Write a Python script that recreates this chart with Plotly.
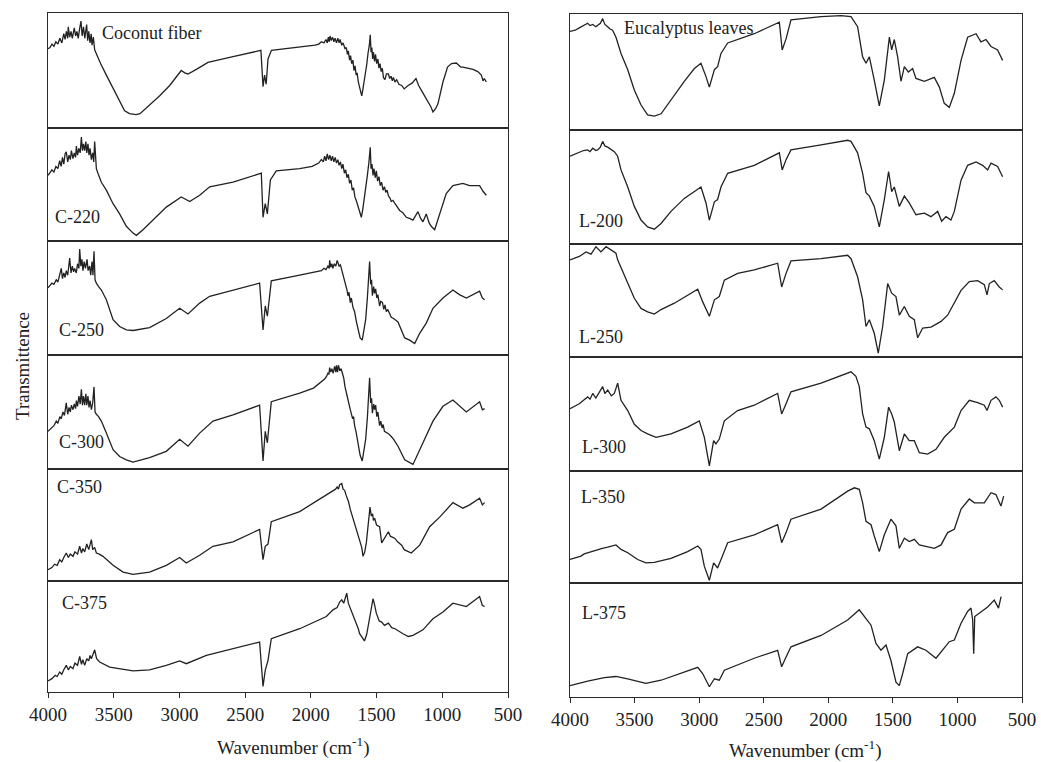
import plotly.graph_objects as go

# ---- data: (wavenumber cm-1, relative transmittance 0-100 within its panel) ----
coconut = [(4000,69),(3985,70),(3970,73),(3955,71),(3940,75),(3925,73),(3910,78),(3895,74),(3880,82),(3870,77),(3860,84),(3850,78),(3846,88),(3835,79),(3825,84),(3815,78),(3800,87),(3790,80),(3780,84),(3770,78),(3760,86),(3749,93),(3740,80),(3730,88),(3720,78),(3712,86),(3706,90),(3698,76),(3690,84),(3680,74),(3672,82),(3665,72),(3655,79),(3645,68),(3630,64),(3615,60),(3600,56),(3556,46),(3500,34),(3450,23),(3417,15),(3380,12.5),(3330,11.6),(3300,12.5),(3227,20),(3150,28),(3074,37),(3010,47),(2986,50),(2960,48),(2935,47),(2871,51),(2783,57),(2592,62),(2400,67),(2380,67.5),(2364,36),(2352,46),(2340,38),(2326,60),(2300,67.5),(2085,70),(1968,72),(1940,73),(1920,75),(1900,74),(1885,77),(1875,74),(1867,79),(1860,75),(1854,80),(1845,76),(1835,79),(1825,75),(1816,78),(1805,74),(1795,78),(1785,74),(1778,77),(1765,72),(1755,74),(1740,69),(1730,70),(1722,64),(1715,67),(1705,59),(1698,63),(1689,56),(1680,59),(1672,50),(1664,54),(1655,46),(1648,48),(1639,40),(1630,36),(1620,30),(1613,28),(1605,33),(1595,40),(1585,50),(1575,55),(1565,65),(1555,72),(1548,81),(1542,66),(1536,70),(1530,60),(1524,66),(1515,58),(1508,64),(1499,56),(1490,60),(1482,52),(1474,56),(1465,49),(1456,52),(1448,44),(1436,42),(1425,47),(1410,47),(1400,43),(1390,45),(1380,41),(1372,44),(1360,40),(1347,42),(1330,38),(1309,37),(1290,34),(1260,37),(1230,39),(1200,43),(1180,37),(1150,31),(1120,25.5),(1100,21),(1085,18),(1071,14),(1050,17),(1033,21),(1010,33),(995,40),(960,53),(930,56),(893,56.5),(860,53),(843,53),(800,52),(767,51),(730,49),(703,46),(690,41),(680,43),(665,40)]
c220 = [(4000,58),(3985,60),(3970,63),(3955,61),(3940,66),(3925,64),(3911,71),(3900,66),(3890,74),(3880,68),(3870,77),(3861,79),(3850,70),(3840,76),(3830,72),(3822,80),(3810,73),(3800,78),(3790,74),(3784,84),(3775,76),(3765,82),(3755,78),(3746,92),(3738,80),(3730,86),(3721,80),(3712,88),(3705,78),(3696,86),(3688,76),(3680,82),(3670,72),(3660,78),(3652,70),(3645,88),(3638,68),(3632,64),(3620,60),(3605,56),(3594,52),(3556,45),(3505,33),(3455,24),(3404,13),(3353,7),(3328,5),(3277,10),(3201,18.5),(3100,30),(2986,39),(2922,35),(2846,40.5),(2770,48),(2592,52),(2377,60),(2364,21),(2347,33),(2331,24),(2308,54),(2263,62),(2085,64),(1990,66),(1960,68),(1940,69),(1920,72),(1905,70),(1895,75),(1885,71),(1875,77),(1865,72),(1855,76),(1845,71),(1835,75),(1825,70),(1815,74),(1805,69),(1795,72),(1785,67),(1775,70),(1765,64),(1756,68),(1745,60),(1735,63),(1725,56),(1715,59),(1705,51),(1695,54),(1685,45),(1675,47),(1665,39),(1655,36),(1640,30),(1625,24),(1616,21),(1605,28),(1595,36),(1583,44),(1570,58),(1558,70),(1548,83),(1542,64),(1535,68),(1527,58),(1520,64),(1510,56),(1502,62),(1492,53),(1482,57),(1472,49),(1462,52),(1451,45),(1440,48),(1430,43),(1420,45),(1410,40),(1398,38),(1388,35),(1375,36),(1360,33),(1340,30),(1324,27),(1300,25),(1274,21),(1250,20),(1223,18.5),(1185,26),(1165,20),(1147,17),(1122,24),(1100,16),(1084,13),(1058,10),(1020,24),(970,42),(919,49),(843,51),(792,49),(716,49),(690,44),(665,40.5)]
c250 = [(4000,59),(3985,61),(3970,63),(3955,62),(3937,66),(3925,64),(3912,70),(3899,76),(3890,67),(3880,72),(3870,68),(3861,74),(3850,70),(3842,78),(3835,85),(3825,72),(3815,78),(3805,73),(3797,76),(3785,72),(3775,80),(3765,76),(3759,93),(3750,78),(3742,84),(3734,74),(3725,82),(3715,76),(3703,84),(3695,74),(3683,78),(3675,70),(3665,82),(3658,70),(3650,91),(3642,66),(3632,63),(3615,60),(3594,57),(3556,48.5),(3505,31),(3455,25),(3404,22),(3353,21.5),(3227,24),(3100,32),(2998,41),(2935,36),(2846,45.5),(2770,51.5),(2592,57),(2390,63),(2364,22),(2347,43),(2331,34),(2301,65),(2085,70),(1940,73),(1920,74),(1900,76),(1885,75),(1870,78),(1860,76),(1857,83),(1848,77),(1840,80),(1832,76),(1822,80),(1810,78),(1800,83),(1794,80),(1785,78),(1775,79),(1768,76),(1755,70),(1743,66),(1735,62),(1725,57),(1718,52),(1710,55),(1700,46),(1692,50),(1680,42),(1667,38),(1655,30),(1641,22),(1625,15),(1609,13),(1595,22),(1583,31),(1570,50),(1560,68),(1553,82),(1545,62),(1538,66),(1532,52),(1522,60),(1515,54),(1507,58),(1498,50),(1490,53),(1477,43),(1468,47),(1455,46),(1445,40),(1436,44),(1426,38),(1415,40),(1400,36),(1388,33),(1370,32),(1337,29),(1286,15),(1248,13),(1210,10),(1172,19),(1122,28),(1071,41),(995,50),(919,57),(870,53),(817,50),(716,56),(695,50),(678,48.5)]
c300 = [(4000,33),(3985,35),(3970,37),(3955,38),(3937,42),(3925,40),(3910,46),(3900,44),(3886,50),(3875,47),(3861,58),(3850,48),(3840,54),(3830,50),(3822,56),(3810,52),(3800,57),(3790,53),(3784,60),(3775,55),(3765,64),(3755,57),(3746,70),(3738,56),(3730,64),(3721,56),(3712,66),(3705,56),(3696,64),(3688,54),(3680,60),(3670,52),(3660,58),(3650,72),(3642,50),(3632,48),(3615,46),(3594,42),(3556,31.5),(3505,17),(3455,11),(3404,8),(3353,6),(3227,10),(3100,15.5),(2998,26),(2935,20),(2846,31.5),(2745,42),(2592,47.5),(2390,56),(2364,7),(2347,33),(2331,23),(2301,59),(2085,66.5),(1980,71),(1933,75),(1910,77),(1895,79),(1882,81),(1870,84),(1862,83),(1857,89),(1848,85),(1840,88),(1830,84),(1819,90),(1810,85),(1805,91),(1797,85),(1790,91),(1780,86),(1770,88),(1760,84),(1750,80),(1740,72),(1730,66),(1720,62),(1710,57),(1700,52),(1692,49),(1682,44),(1675,46),(1667,38),(1655,32),(1641,24),(1625,12),(1609,7),(1595,16),(1583,26),(1570,45),(1560,62),(1553,80),(1545,58),(1538,62),(1532,49),(1522,57),(1515,52),(1507,56),(1498,46),(1490,50),(1477,38),(1468,42),(1458,36),(1450,39),(1440,33),(1426,32),(1410,31),(1388,28.5),(1370,26),(1337,20),(1286,8),(1223,4),(1172,17),(1122,28.5),(1071,42),(995,55),(919,60.5),(817,50),(716,59),(695,52),(678,53)]
c350 = [(4000,10),(3970,12),(3950,15),(3930,14),(3911,19),(3895,17),(3880,21),(3861,25),(3845,21),(3830,24),(3810,22),(3795,26),(3775,24),(3759,31),(3745,25),(3735,29),(3721,26),(3705,33),(3690,28),(3680,34),(3670,37),(3660,28),(3645,30),(3632,25),(3610,24),(3582,22),(3505,14),(3429,8),(3353,6),(3227,8),(3100,14),(2998,21),(2948,16),(2846,23),(2745,31),(2592,35),(2390,46),(2364,19),(2347,31),(2326,33),(2301,53),(2085,62),(1882,77),(1832,80),(1812,82),(1800,84),(1790,82),(1781,86),(1765,87),(1755,82),(1743,81),(1730,76),(1714,71),(1700,64),(1690,60),(1676,56),(1665,52),(1641,40),(1613,30),(1603,22),(1590,26),(1578,34),(1562,55),(1550,66),(1540,58),(1530,60),(1524,54),(1515,56),(1500,50),(1477,48.5),(1461,34),(1439,38),(1420,42),(1410,44),(1395,40),(1375,39),(1360,38),(1340,35),(1309,32),(1290,28),(1258,26),(1236,25),(1172,32),(1096,48.5),(1020,57),(919,70),(843,65),(792,68),(716,74),(695,68),(678,70)]
c375 = [(4000,10),(3970,12),(3945,15),(3930,14),(3911,18),(3895,16),(3880,20),(3861,24),(3845,20),(3830,23),(3810,21),(3795,26),(3775,24),(3759,32),(3745,25),(3735,29),(3721,24),(3705,30),(3690,28),(3680,33),(3670,30),(3645,38),(3630,30),(3607,27),(3531,22.5),(3353,19),(3227,20),(3100,24),(2998,28),(2948,25.5),(2795,33),(2592,39),(2390,45),(2364,5),(2347,19.5),(2326,28.5),(2301,48),(2085,57),(1882,68),(1832,74),(1800,76),(1781,81),(1765,83),(1750,80),(1740,85),(1727,89),(1715,80),(1705,77),(1689,71),(1667,66),(1639,57),(1629,52.5),(1605,48),(1592,46),(1575,52),(1550,69),(1540,76),(1527,84),(1518,80),(1510,75),(1502,71),(1480,64),(1461,63),(1440,60),(1410,62),(1385,58),(1360,57),(1299,52.5),(1258,50),(1223,51),(1147,56),(1071,66),(995,72),(919,80),(817,77),(716,86),(695,78),(678,77)]

eucalyptus = [(4000,85),(3960,86),(3928,88),(3900,90),(3863,92),(3845,90),(3824,91),(3800,89),(3786,90),(3765,92),(3747,96),(3730,91),(3708,89),(3690,87),(3670,86),(3644,80),(3605,66),(3553,52),(3502,34.5),(3450,21.5),(3399,13),(3347,12),(3295,14),(3218,26),(3115,42),(3037,53),(2986,57.5),(2947,46),(2921,37),(2882,52),(2857,54.6),(2831,66),(2779,75),(2573,83),(2379,93),(2357,69),(2326,79),(2289,95),(2056,97.7),(1902,98.6),(1824,97.7),(1773,89),(1734,63),(1708,57.5),(1682,63),(1644,43),(1605,20.7),(1566,43),(1527,80),(1509,69),(1489,78),(1463,63),(1437,42),(1411,54.6),(1380,50),(1347,53),(1321,44.5),(1256,42),(1179,45.4),(1140,37),(1102,23),(1063,19.5),(1024,31.6),(972,60),(921,80),(856,83),(818,76),(779,78),(740,72),(689,69),(650,60)]
l200 = [(4000,77),(3960,79),(3928,80),(3895,82),(3863,82.5),(3845,81),(3824,84),(3800,82),(3786,82.5),(3765,85),(3747,90),(3730,86),(3708,85),(3680,83),(3657,81),(3631,77),(3605,65),(3553,50),(3502,33),(3450,21),(3399,15),(3347,13),(3295,18),(3218,28.6),(3115,40),(2986,50),(2947,36),(2921,21),(2882,37),(2857,39),(2831,50),(2779,62),(2573,69),(2379,80),(2357,65),(2327,74),(2289,82.5),(2056,87),(1850,91),(1824,90),(1773,80),(1734,62),(1708,45),(1682,42),(1644,33),(1605,15),(1566,39),(1533,63.6),(1509,46),(1489,50),(1450,33),(1411,42),(1373,36),(1321,25.7),(1256,27),(1205,24),(1153,28.6),(1122,20),(1089,24),(1050,21),(1024,28.6),(972,56),(921,69),(856,72),(805,69),(766,65),(740,71),(689,68),(650,59)]
l250 = [(4000,86),(3928,89),(3876,93),(3837,91),(3799,97.6),(3760,93),(3721,97.6),(3683,94.7),(3644,91.8),(3631,86),(3592,75.6),(3553,65),(3502,52),(3450,43),(3399,40),(3347,38),(3295,42),(3192,47.6),(3089,55),(3011,60),(2973,49),(2921,36),(2882,50.6),(2844,53.5),(2805,68),(2702,74),(2573,77),(2392,83),(2361,62),(2327,74),(2289,85),(2056,87),(1850,90),(1824,87),(1773,71),(1734,50.6),(1708,27),(1682,33),(1644,21),(1613,3.5),(1579,27),(1540,65),(1509,56.5),(1476,53.5),(1450,37),(1411,44.7),(1373,36),(1334,33),(1308,17),(1269,25.6),(1205,26.5),(1127,31.5),(1076,37),(1024,47.6),(972,59),(908,66.8),(843,67.6),(792,64),(771,55),(753,65),(715,67.6),(676,62),(650,59.4)]
l300 = [(4000,54.7),(3960,57),(3928,59),(3895,62),(3863,65),(3845,63),(3824,68),(3800,64),(3786,66.6),(3765,70),(3747,74),(3730,68),(3708,71),(3680,66),(3657,68),(3631,77),(3605,62),(3553,53),(3502,41),(3450,35.5),(3399,32.5),(3334,29.6),(3218,32.5),(3089,38.5),(2999,44),(2960,29.6),(2921,4.4),(2888,26.6),(2870,23.7),(2844,28),(2805,44),(2702,53),(2573,57.7),(2392,68),(2361,50),(2327,59),(2289,69.5),(2056,77),(1850,85.8),(1824,87),(1786,83),(1760,74),(1734,50),(1708,38.5),(1682,37),(1644,26.6),(1605,10.4),(1566,29.6),(1533,56),(1509,50),(1489,43),(1450,17.8),(1411,32.5),(1373,26.6),(1334,26.6),(1295,16),(1231,14.8),(1166,19),(1102,29.6),(1024,38.5),(972,53),(908,62),(843,60),(792,57.7),(771,53),(740,62),(702,65),(676,62),(650,56)]
l350 = [(4000,21),(3950,23),(3915,24),(3890,26),(3863,27),(3830,28),(3786,30),(3750,31),(3708,32),(3680,33),(3644,34),(3605,30),(3553,27),(3476,21),(3412,18),(3347,18.5),(3218,22),(3089,28),(3011,33),(2986,30),(2960,15),(2921,2.4),(2888,18),(2857,13.4),(2831,21),(2779,36),(2573,43),(2392,52),(2361,36),(2327,45),(2289,57),(2056,66),(1850,82),(1798,85),(1760,83.6),(1734,71.6),(1708,55),(1669,52),(1644,42),(1605,28),(1566,43),(1515,57),(1476,51),(1450,31),(1411,40),(1373,37),(1334,39),(1295,34),(1179,31),(1127,34),(1076,45),(1024,48),(972,66),(908,75),(869,71.6),(792,71.6),(740,80.6),(702,79),(663,68.7),(642,77.6)]
l375 = [(4000,10),(3863,14),(3734,17),(3644,18),(3553,16),(3412,12),(3295,14.7),(3141,20.6),(3011,26),(2973,20.6),(2921,9),(2882,16),(2844,14.7),(2805,23.5),(2573,34),(2392,41),(2361,26.5),(2327,35),(2289,44),(2056,54),(1850,67.6),(1760,76.5),(1721,70.6),(1669,63),(1631,47),(1592,41),(1553,45.6),(1515,32),(1476,13),(1450,10),(1424,20.6),(1385,38),(1308,44),(1244,41),(1166,34),(1114,41),(1063,48.5),(1024,50),(972,64.7),(921,75),(895,78),(882,67.6),(874,38),(866,70.6),(818,75),(766,79),(715,85),(682,78),(662,88)]

left_names = ["Coconut fiber", "C-220", "C-250", "C-300", "C-350", "C-375"]
right_names = ["Eucalyptus leaves", "L-200", "L-250", "L-300", "L-350", "L-375"]
left_series = [coconut, c220, c250, c300, c350, c375]
right_series = [eucalyptus, l200, l250, l300, l350, l375]
tick_vals = [4000, 3500, 3000, 2500, 2000, 1500, 1000, 500]
tick_text = ["4000", "3500", "3000", "2500", "2000", "1500", "1000", "500"]

# label anchor positions (wavenumber, value)
left_label_pos = [(3604, 83), (3962, 21), (3932, 22), (3932, 24), (3947, 84), (3909, 80)]
right_label_pos = [(3597, 88), (3946, 20), (3946, 18), (3925, 21), (3932, 77), (3925, 74)]

# ---- layout geometry (pixels) ----
W, H = 1041, 762
left_x = (48, 508)
right_x = (570, 1022)
left_rows = [(13, 128), (128, 241), (241, 355), (355, 469), (469, 581), (581, 692)]
right_rows = [(14, 130), (130, 244), (244, 357), (357, 471), (471, 583), (583, 697)]

FONT = "Liberation Serif"
INK = "#222222"

fig = go.Figure()
layout = dict(width=W, height=H, autosize=False,
              margin=dict(l=0, r=0, t=0, b=0, pad=0, autoexpand=False),
              paper_bgcolor="white", plot_bgcolor="white", showlegend=False,
              font=dict(family=FONT, color=INK))
annotations = []

panels = []
for xs, rows, series, names, lpos in [
        (left_x, left_rows, left_series, left_names, left_label_pos),
        (right_x, right_rows, right_series, right_names, right_label_pos)]:
    for r in range(6):
        panels.append((xs, rows[r], series[r], names[r], lpos[r], r == 5))

for i, (xs, (top, bot), data, name, (lx, ly), is_bottom) in enumerate(panels, start=1):
    wn = [p[0] for p in data]
    tv = [p[1] for p in data]
    fig.add_trace(go.Scatter(x=wn, y=tv, mode="lines", xaxis=f"x{i}", yaxis=f"y{i}",
                             line=dict(color=INK, width=1.3), hoverinfo="skip"))
    layout[f"xaxis{i}"] = dict(
        domain=[xs[0] / W, xs[1] / W], anchor=f"y{i}", range=[4000, 500],
        showgrid=False, zeroline=False, showline=True, mirror=True, automargin=False,
        linecolor="#2a2a2a", linewidth=1.4,
        tickmode="array", tickvals=tick_vals, ticktext=tick_text,
        ticks="outside" if is_bottom else "", ticklen=5, tickwidth=1.2, tickcolor="#2a2a2a",
        showticklabels=is_bottom, tickfont=dict(family=FONT, size=19, color=INK))
    layout[f"yaxis{i}"] = dict(
        domain=[1 - bot / H, 1 - top / H], anchor=f"x{i}", range=[0, 100],
        showgrid=False, zeroline=False, showline=True, mirror=True, automargin=False,
        linecolor="#2a2a2a", linewidth=1.4, showticklabels=False, ticks="")
    annotations.append(dict(text=name, x=lx, y=ly, xref=f"x{i}", yref=f"y{i}",
                            xanchor="left", yanchor="middle", showarrow=False,
                            font=dict(family=FONT, size=18, color=INK)))

annotations.append(dict(text="Wavenumber (cm<sup>-1</sup>)", x=293 / W, y=1 - 746 / H,
                        xref="paper", yref="paper", xanchor="center", yanchor="middle",
                        showarrow=False, font=dict(family=FONT, size=19, color=INK)))
annotations.append(dict(text="Wavenumber (cm<sup>-1</sup>)", x=805 / W, y=1 - 749 / H,
                        xref="paper", yref="paper", xanchor="center", yanchor="middle",
                        showarrow=False, font=dict(family=FONT, size=19, color=INK)))
annotations.append(dict(text="Transmittence", x=22 / W, y=1 - 366 / H,
                        xref="paper", yref="paper", xanchor="center", yanchor="middle",
                        textangle=-90, showarrow=False,
                        font=dict(family=FONT, size=19, color=INK)))
layout["annotations"] = annotations
fig.update_layout(**layout)
fig.write_html("out.html", config={"displayModeBar": False},
               post_script="document.body.style.margin='0';document.body.style.padding='0';")
